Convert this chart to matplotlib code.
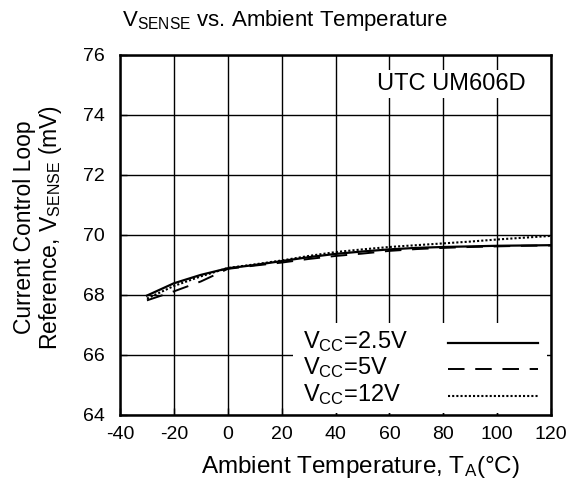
import matplotlib
matplotlib.use("Agg")
import matplotlib.pyplot as plt
from matplotlib.patches import Rectangle

plt.rcParams['font.family'] = ['Liberation Sans', 'DejaVu Sans']
plt.rcParams['mathtext.fontset'] = 'custom'
plt.rcParams['mathtext.rm'] = 'Liberation Sans'
plt.rcParams['mathtext.it'] = 'Liberation Sans'
plt.rcParams['axes.unicode_minus'] = False

temps = [-30, -20, -10, 0, 10, 20, 30, 40, 50, 60, 70, 80, 90, 100, 110, 120]
vs_2v5 = [67.98, 68.39, 68.67, 68.89, 69.00, 69.13, 69.26, 69.37, 69.45, 69.52,
          69.57, 69.60, 69.62, 69.64, 69.65, 69.66]
vs_5v = [67.82, 68.12, 68.45, 68.87, 68.98, 69.08, 69.20, 69.30, 69.38, 69.47,
         69.53, 69.57, 69.60, 69.62, 69.64, 69.65]
vs_12v = [67.88, 68.30, 68.62, 68.90, 69.02, 69.15, 69.30, 69.43, 69.52, 69.60,
          69.66, 69.72, 69.78, 69.85, 69.91, 69.97]

labels = [r"V$_{\mathrm{CC}}$=2.5V", r"V$_{\mathrm{CC}}$=5V", r"V$_{\mathrm{CC}}$=12V"]
styles = [dict(lw=1.6), dict(lw=1.4, dashes=(8.5, 5.5)), dict(lw=1.5, dashes=(1.0, 1.0))]

xticks = list(range(-40, 121, 20))
yticks = list(range(64, 77, 2))

fig = plt.figure(figsize=(5.75, 4.84), dpi=100)
ax = fig.add_axes([0.2087, 0.1426, 0.7496, 0.7438])

for vals, lab, st in zip([vs_2v5, vs_5v, vs_12v], labels, styles):
    ax.plot(temps, vals, color="black", label=lab, **st)

ax.set_xlim(-40, 120)
ax.set_ylim(64, 76)
ax.set_xticks(xticks)
ax.set_yticks(yticks)
ax.grid(True, color="black", lw=1.0)
ax.tick_params(direction="in", length=5, width=1, labelsize=14)
ax.tick_params(axis="y", pad=11)
ax.tick_params(axis="x", pad=8)
for sp in ax.spines.values():
    sp.set_linewidth(1.8)

fig.text(0.496, 0.958, r"V$_{\mathrm{SENSE}}$ vs. Ambient Temperature", fontsize=16,
         ha="center", va="center")
fig.text(0.627, 0.035, r"Ambient Temperature, T$_{\mathrm{A}}$(°C)", fontsize=17.5,
         ha="center", va="center")
fig.text(0.067, 0.53, "Current Control Loop\n" + r"Reference, V$_{\mathrm{SENSE}}$ (mV)",
         fontsize=16.5, rotation=90, ha="center", va="center", linespacing=1.05)

ax.text(0.94, 0.92, "UTC UM606D", transform=ax.transAxes, ha="right", va="center",
        fontsize=17, bbox=dict(facecolor="white", edgecolor="none", pad=2))

# legend drawn by hand so the labels stay left-aligned
ax.add_patch(Rectangle((0.401, 0.006), 0.59, 0.25, transform=ax.transAxes,
                       facecolor="white", edgecolor="none", zorder=3))
row_y = [0.205, 0.133, 0.058]
for lab, st, y in zip(labels, styles, row_y):
    ax.text(0.425, y, lab, transform=ax.transAxes, fontsize=17, ha="left",
            va="center", zorder=4)
    ax.plot([0.761, 0.970], [y - 0.005, y - 0.005], transform=ax.transAxes,
            color="black", zorder=4, **st)

fig.savefig("out.png", dpi=100)
